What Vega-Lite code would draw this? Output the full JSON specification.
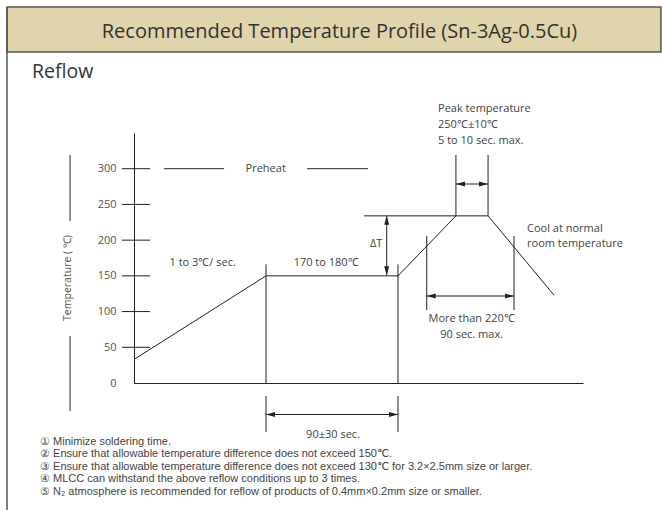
{
  "$schema": "https://vega.github.io/schema/vega-lite/v6.json",
  "width": 449,
  "height": 250,
  "autosize": {"type": "none"},
  "padding": {"left": 134, "top": 133, "right": 79, "bottom": 127},
  "background": "white",
  "config": {"view": {"stroke": null}, "font": "Open Sans"},
  "encoding": {
    "x": {"field": "x", "type": "quantitative", "scale": {"domain": [0, 306.14], "nice": false, "zero": false},
      "axis": {"title": null, "labels": false, "ticks": false, "grid": false, "domainColor": "#222", "domainWidth": 1}},
    "y": {"field": "y", "type": "quantitative", "scale": {"domain": [0, 350], "nice": false, "zero": false},
      "axis": {"title": null, "values": [0, 50, 100, 150, 200, 250, 300], "ticks": false, "grid": false, "domainColor": "#222", "domainWidth": 1, "labelPadding": 18, "labelFontSize": 11, "labelColor": "#555", "labelFont": "Open Sans"}}
  },
  "layer": [
    {
      "data": {"values": [{"x": -86.6, "x2": 359.3, "y": 463.4, "y2": 526.4}]},
      "mark": {"type": "rect", "fill": "#DFD4AB", "stroke": "#555", "strokeWidth": 1.5},
      "encoding": {"x2": {"field": "x2"}, "y2": {"field": "y2"}}
    },
    {
      "data": {"values": [{"x": -86.6, "y": 526.4, "x2": -86.6, "y2": -178}]},
      "mark": {"type": "rule", "color": "#555", "strokeWidth": 1.5},
      "encoding": {"x2": {"field": "x2"}, "y2": {"field": "y2"}}
    },
    {
      "data": {"values": [
        {"i": 1, "x": 0, "y": 33},
        {"i": 2, "x": 90, "y": 150},
        {"i": 3, "x": 180, "y": 150},
        {"i": 4, "x": 219.5, "y": 234},
        {"i": 5, "x": 241.4, "y": 234},
        {"i": 6, "x": 286.4, "y": 123}
      ]},
      "mark": {"type": "line", "color": "#222", "strokeWidth": 1},
      "encoding": {"order": {"field": "i", "type": "quantitative"}}
    },
    {
      "data": {"values": [
        {"x": -8.2, "y": 50, "x2": 10.9, "y2": 50},
        {"x": -8.2, "y": 100, "x2": 10.9, "y2": 100},
        {"x": -8.2, "y": 150, "x2": 10.9, "y2": 150},
        {"x": -8.2, "y": 200, "x2": 10.9, "y2": 200},
        {"x": -8.2, "y": 250, "x2": 10.9, "y2": 250},
        {"x": -8.2, "y": 300, "x2": 10.9, "y2": 300},
        {"x": 90, "y": 0, "x2": 90, "y2": 166},
        {"x": 180, "y": 0, "x2": 180, "y2": 166},
        {"x": 90, "y": -18.2, "x2": 90, "y2": -68.6},
        {"x": 180, "y": -18.2, "x2": 180, "y2": -68.6},
        {"x": 90, "y": -44.1, "x2": 180, "y2": -44.1},
        {"x": 219.5, "y": 234, "x2": 219.5, "y2": 319.2},
        {"x": 241.4, "y": 234, "x2": 241.4, "y2": 319.2},
        {"x": 219.5, "y": 278.6, "x2": 241.4, "y2": 278.6},
        {"x": 156.8, "y": 234, "x2": 219.5, "y2": 234},
        {"x": 172.3, "y": 151, "x2": 172.3, "y2": 234},
        {"x": 199.6, "y": 102.2, "x2": 199.6, "y2": 205.8},
        {"x": 259.1, "y": 102.2, "x2": 259.1, "y2": 205.8},
        {"x": 199.6, "y": 121.8, "x2": 259.1, "y2": 121.8},
        {"x": 20.5, "y": 300, "x2": 61.4, "y2": 300},
        {"x": 118, "y": 300, "x2": 159.5, "y2": 300},
        {"x": -43.6, "y": 319.2, "x2": -43.6, "y2": 226.8},
        {"x": -43.6, "y": 65.8, "x2": -43.6, "y2": -39.2}
      ]},
      "mark": {"type": "rule", "color": "#222", "strokeWidth": 1},
      "encoding": {"x2": {"field": "x2"}, "y2": {"field": "y2"}}
    },
    {
      "data": {"values": [
        {"x": 90, "y": -44.1, "dir": "left"},
        {"x": 180, "y": -44.1, "dir": "right"},
        {"x": 219.5, "y": 278.6, "dir": "left"},
        {"x": 241.4, "y": 278.6, "dir": "right"},
        {"x": 199.6, "y": 121.8, "dir": "left"},
        {"x": 259.1, "y": 121.8, "dir": "right"},
        {"x": 172.3, "y": 234, "dir": "up"},
        {"x": 172.3, "y": 151, "dir": "down"}
      ]},
      "mark": {"type": "point", "filled": true, "color": "#222", "opacity": 1, "size": 81, "strokeWidth": 0},
      "encoding": {
        "shape": {"field": "dir", "type": "nominal", "legend": null,
          "scale": {"domain": ["left", "right", "up", "down"],
            "range": ["M0,0L2,-0.55L2,0.55Z", "M0,0L-2,-0.55L-2,0.55Z", "M0,0L-0.55,2L0.55,2Z", "M0,0L-0.55,-2L0.55,-2Z"]}}
      }
    },
    {
      "data": {"values": [
        {"x": 89.8, "y": 300, "label": "Preheat"},
        {"x": 46.8, "y": 168.4, "label": "1 to 3℃/ sec."},
        {"x": 131, "y": 168, "label": "170 to 180℃"},
        {"x": 165.1, "y": 194.6, "label": "ΔT"},
        {"x": 230.2, "y": 89.6, "label": "More than 220℃"},
        {"x": 230.2, "y": 67.2, "label": "90 sec. max."},
        {"x": 135.7, "y": -72.8, "label": "90±30 sec."}
      ]},
      "mark": {"type": "text", "fontSize": 11, "color": "#444", "align": "center", "baseline": "middle"},
      "encoding": {"text": {"field": "label"}}
    },
    {
      "data": {"values": [
        {"x": 207.3, "y": 383.6, "label": "Peak temperature"},
        {"x": 207.3, "y": 361.2, "label": "250℃±10℃"},
        {"x": 207.3, "y": 338.8, "label": "5 to 10 sec. max."},
        {"x": 268, "y": 215.6, "label": "Cool at normal"},
        {"x": 268, "y": 194.6, "label": "room temperature"}
      ]},
      "mark": {"type": "text", "fontSize": 11, "color": "#444", "align": "left", "baseline": "middle"},
      "encoding": {"text": {"field": "label"}}
    },
    {
      "data": {"values": [
        {"x": -64.1, "y": -82.2, "label": "① Minimize soldering time."},
        {"x": -64.1, "y": -99.7, "label": "② Ensure that allowable temperature difference does not exceed 150℃."},
        {"x": -64.1, "y": -117.2, "label": "③ Ensure that allowable temperature difference does not exceed 130℃ for 3.2×2.5mm size or larger."},
        {"x": -64.1, "y": -134.7, "label": "④ MLCC can withstand the above reflow conditions up to 3 times."},
        {"x": -64.1, "y": -152.2, "label": "⑤ N₂ atmosphere is recommended for reflow of products of 0.4mm×0.2mm size or smaller."}
      ]},
      "mark": {"type": "text", "font": "Liberation Sans", "fontSize": 11, "color": "#444", "align": "left", "baseline": "middle"},
      "encoding": {"text": {"field": "label"}}
    },
    {
      "data": {"values": [{"x": 140.1, "y": 491.4, "label": "Recommended Temperature Profile (Sn-3Ag-0.5Cu)"}]},
      "mark": {"type": "text", "fontSize": 20, "color": "#333", "align": "center", "baseline": "middle"},
      "encoding": {"text": {"field": "label"}}
    },
    {
      "data": {"values": [{"x": -69.5, "y": 435.4, "label": "Reflow"}]},
      "mark": {"type": "text", "fontSize": 19.5, "color": "#333", "align": "left", "baseline": "middle"},
      "encoding": {"text": {"field": "label"}}
    },
    {
      "data": {"values": [{"x": -45, "y": 147, "label": "Temperature ( ℃)"}]},
      "mark": {"type": "text", "fontSize": 10.5, "color": "#555", "align": "center", "baseline": "middle", "angle": 270},
      "encoding": {"text": {"field": "label"}}
    }
  ]
}
